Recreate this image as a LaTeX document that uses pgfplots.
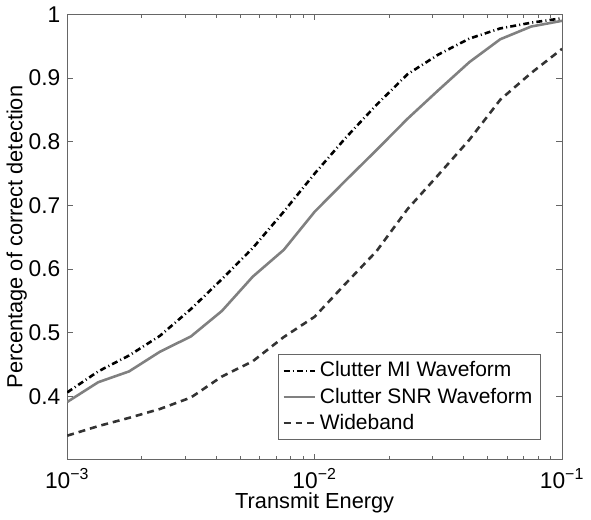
\documentclass[border=0pt]{standalone}
\usepackage{fontspec}
\setmainfont{Liberation Sans}
\usepackage{pgfplots}
\pgfplotsset{compat=1.18}
\begin{document}
\begin{tikzpicture}
\begin{axis}[
  scale only axis,
  width=250pt, height=225pt,
  xmode=log,
  xmin=1e-3, xmax=1e-1,
  ymin=0.3, ymax=1,
  xtick={1e-3,1e-2,1e-1},
  xticklabels={10\textsuperscript{−3},10\textsuperscript{−2},10\textsuperscript{−1}},
  ytick={0.4,0.5,0.6,0.7,0.8,0.9,1},
  yticklabels={0.4,0.5,0.6,0.7,0.8,0.9,1},
  tick align=inside,
  tick pos=both,
  axis line style={black!60},
  major tick length=3pt, minor tick length=2pt,
  every tick/.style={black!60},
  tick label style={font=\fontsize{11.5}{13}\selectfont},
  xticklabel style={yshift=-1pt},
  xlabel={Transmit Energy},
  ylabel={Percentage of correct detection},
  label style={font=\fontsize{11}{13}\selectfont},
  xlabel style={yshift=5pt},
  ylabel style={yshift=-6pt},
  legend style={at={(1,0)}, anchor=south east, xshift=-11pt, yshift=10pt,
    draw=black!60, font=\fontsize{10.6}{12}\selectfont, row sep=0pt, inner sep=1.8pt},
  legend cell align=left,
  legend image code/.code={\draw[#1] (0cm,0cm) -- (0.55cm,0cm);},
]
\addplot[black, line width=1.3pt, dash pattern=on 3pt off 1.6pt on 0.5pt off 1.6pt] coordinates {
(0.001,0.406) (0.001334,0.439) (0.001778,0.464) (0.002371,0.495) (0.003162,0.537)
(0.004217,0.584) (0.005623,0.633) (0.007499,0.690) (0.01,0.750) (0.013335,0.806)
(0.017783,0.858) (0.023714,0.906) (0.031623,0.937) (0.04217,0.962) (0.056234,0.978)
(0.074989,0.987) (0.1,0.994)
};
\addlegendentry{Clutter MI Waveform}
\addplot[black!50, line width=1.3pt] coordinates {
(0.001,0.391) (0.001334,0.422) (0.001778,0.439) (0.002371,0.470) (0.003162,0.494)
(0.004217,0.534) (0.005623,0.588) (0.007499,0.630) (0.01,0.690) (0.013335,0.739)
(0.017783,0.787) (0.023714,0.836) (0.031623,0.881) (0.04217,0.925) (0.056234,0.961)
(0.074989,0.981) (0.1,0.990)
};
\addlegendentry{Clutter SNR Waveform}
\addplot[black!80, line width=1.3pt, dash pattern=on 3.5pt off 2.5pt] coordinates {
(0.001,0.338) (0.001334,0.353) (0.001778,0.366) (0.002371,0.380) (0.003162,0.398)
(0.004217,0.431) (0.005623,0.455) (0.007499,0.493) (0.01,0.525) (0.013335,0.577)
(0.017783,0.628) (0.023714,0.694) (0.031623,0.748) (0.04217,0.803) (0.056234,0.866)
(0.074989,0.908) (0.1,0.946)
};
\addlegendentry{Wideband}
\end{axis}
\end{tikzpicture}
\end{document}
